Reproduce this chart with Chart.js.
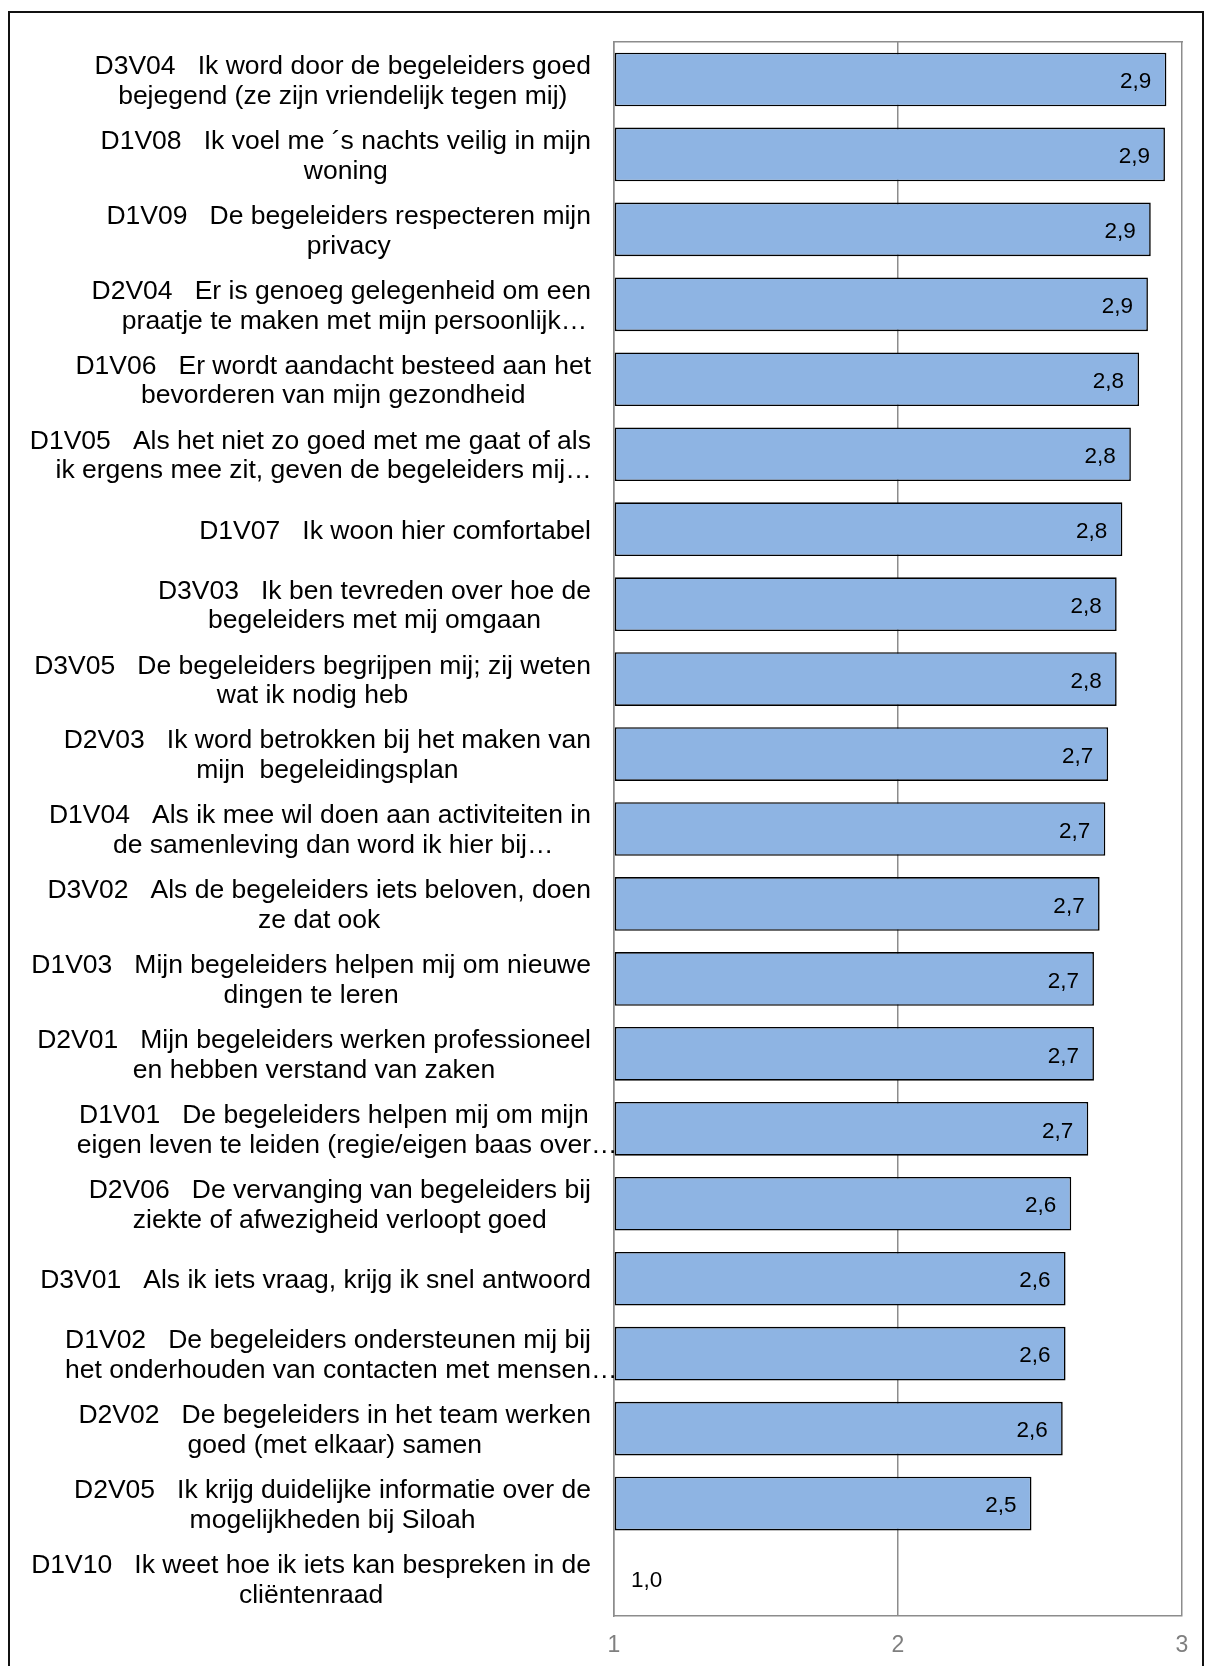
<!DOCTYPE html>
<html>
<head>
<meta charset="utf-8">
<script src="https://cdn.jsdelivr.net/npm/chart.js@4/dist/chart.umd.min.js"></script>
<style>
html,body{margin:0;padding:0;background:#fff;overflow:hidden;}
#frame{position:absolute;left:8px;top:11px;width:1196px;height:1700px;border:2px solid #111;box-sizing:border-box;}
#c{position:absolute;left:0;top:0;}
</style>
</head>
<body>
<div id="frame"></div>
<canvas id="c" width="1205" height="1666"></canvas>
<script>
const categories = [
  ["D3V04   Ik word door de begeleiders goed", "bejegend (ze zijn vriendelijk tegen mij)"],
  ["D1V08   Ik voel me ´s nachts veilig in mijn", "woning"],
  ["D1V09   De begeleiders respecteren mijn", "privacy"],
  ["D2V04   Er is genoeg gelegenheid om een", "praatje te maken met mijn persoonlijk…"],
  ["D1V06   Er wordt aandacht besteed aan het", "bevorderen van mijn gezondheid"],
  ["D1V05   Als het niet zo goed met me gaat of als", "ik ergens mee zit, geven de begeleiders mij…"],
  ["D1V07   Ik woon hier comfortabel"],
  ["D3V03   Ik ben tevreden over hoe de", "begeleiders met mij omgaan"],
  ["D3V05   De begeleiders begrijpen mij; zij weten", "wat ik nodig heb"],
  ["D2V03   Ik word betrokken bij het maken van", "mijn  begeleidingsplan"],
  ["D1V04   Als ik mee wil doen aan activiteiten in", "de samenleving dan word ik hier bij…"],
  ["D3V02   Als de begeleiders iets beloven, doen", "ze dat ook"],
  ["D1V03   Mijn begeleiders helpen mij om nieuwe", "dingen te leren"],
  ["D2V01   Mijn begeleiders werken professioneel", "en hebben verstand van zaken"],
  ["D1V01   De begeleiders helpen mij om mijn", "eigen leven te leiden (regie/eigen baas over…"],
  ["D2V06   De vervanging van begeleiders bij", "ziekte of afwezigheid verloopt goed"],
  ["D3V01   Als ik iets vraag, krijg ik snel antwoord"],
  ["D1V02   De begeleiders ondersteunen mij bij", "het onderhouden van contacten met mensen…"],
  ["D2V02   De begeleiders in het team werken", "goed (met elkaar) samen"],
  ["D2V05   Ik krijg duidelijke informatie over de", "mogelijkheden bij Siloah"],
  ["D1V10   Ik weet hoe ik iets kan bespreken in de", "cliëntenraad"]
];
const scores = [2.945, 2.94, 2.89, 2.88, 2.849, 2.82, 2.79, 2.77, 2.77, 2.74, 2.73, 2.71, 2.69, 2.69, 2.67, 2.61, 2.59, 2.59, 2.58, 2.47, 1.0];
const axisMin = 1;
const axisMax = 3;
const axisStep = 1;

const FONT = '"Liberation Sans", Arial, sans-serif';
const GRID = '#8c8c8c';

const categoryLabels = {
  id: 'categoryLabels',
  afterDraw(chart) {
    const ys = chart.scales.y;
    const ctx = chart.ctx;
    ctx.save();
    ctx.font = '26.5px ' + FONT;
    ctx.fillStyle = '#000';
    ctx.textAlign = 'left';
    ctx.textBaseline = 'middle';
    const right = chart.chartArea.left - 23;
    const lh = 29.8;
    categories.forEach((lines, i) => {
      const cy = ys.getPixelForTick(i) + 2;
      const core = lines.map(l => ctx.measureText(l.replace(/…$/, '')).width);
      const maxW = Math.max(...core);
      const cx = right - maxW / 2;
      lines.forEach((l, k) => {
        const y = cy + (k - (lines.length - 1) / 2) * lh;
        ctx.fillText(l, cx - core[k] / 2, y);
      });
    });
    ctx.restore();
  }
};

const valueLabels = {
  id: 'valueLabels',
  afterDatasetsDraw(chart) {
    const ctx = chart.ctx;
    const meta = chart.getDatasetMeta(0);
    ctx.save();
    ctx.font = '22.5px ' + FONT;
    ctx.fillStyle = '#000';
    ctx.textBaseline = 'middle';
    meta.data.forEach((bar, i) => {
      const txt = scores[i].toFixed(1).replace('.', ',');
      const w = ctx.measureText(txt).width;
      const len = bar.x - bar.base;
      if (len > w + 32) {
        ctx.textAlign = 'right';
        ctx.fillText(txt, bar.x - 15, bar.y + 2.5);
      } else {
        ctx.textAlign = 'left';
        ctx.fillText(txt, bar.base + 17, bar.y + 2.5);
      }
    });
    ctx.restore();
  }
};

new Chart(document.getElementById('c'), {
  type: 'bar',
  data: {
    labels: categories.map(l => l.join(' ')),
    datasets: [{
      data: scores,
      base: axisMin,
      backgroundColor: '#8EB4E3',
      borderColor: '#000',
      borderWidth: ctx => (ctx.raw > axisMin ? 1.6 : 0),
      borderSkipped: false,
      barPercentage: 0.716,
      categoryPercentage: 1
    }]
  },
  options: {
    indexAxis: 'y',
    responsive: false,
    animation: false,
    devicePixelRatio: 1,
    layout: { padding: { top: 42, right: 23, left: 0, bottom: 0 } },
    plugins: { legend: { display: false }, tooltip: { enabled: false } },
    scales: {
      y: {
        type: 'category',
        offset: true,
        ticks: { display: false },
        grid: { display: false, drawTicks: false },
        border: { display: true, color: GRID, width: 1.5 },
        afterFit: s => { s.width = 614; }
      },
      x: {
        type: 'linear',
        position: 'bottom',
        min: axisMin,
        max: axisMax,
        ticks: {
          stepSize: axisStep,
          color: '#7f7f7f',
          font: { family: FONT, size: 23 },
          padding: 16,
          callback: v => String(v)
        },
        grid: { color: GRID, lineWidth: 1.5, drawTicks: false },
        border: { display: true, color: GRID, width: 1.5 },
        afterFit: s => { s.height = 50; }
      },
      x2: {
        type: 'linear',
        position: 'top',
        min: axisMin,
        max: axisMax,
        ticks: { display: false },
        grid: { display: false, drawTicks: false },
        border: { display: true, color: GRID, width: 1.5 },
        afterFit: s => { s.height = 0; }
      }
    }
  },
  plugins: [categoryLabels, valueLabels]
});
</script>
</body>
</html>
